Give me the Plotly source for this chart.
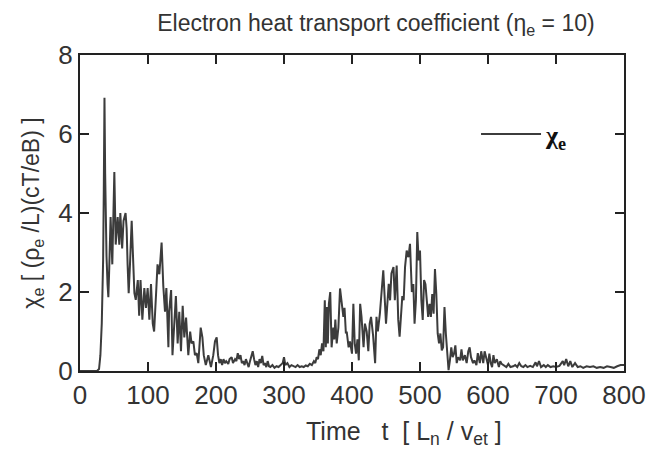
import plotly.graph_objects as go

# Time t [L_n / v_et]
T = [0, 25, 28, 30, 32, 34, 35, 36, 37, 38, 39, 40.5, 41.7, 43, 45, 47.5, 49, 50.5, 52.5, 54,
     55.4, 57.8, 59.3, 62, 64, 67, 68.6, 70, 71.6, 73.5, 76, 78.4, 80, 82, 85, 87, 89, 91.7,
     94.6, 97, 99.5, 102, 104.4, 107, 109, 112, 114, 116.7, 120, 122.5, 125, 127, 130, 131,
     134, 136, 138.7, 141, 143.6, 146, 148.5, 151, 153.4, 156, 159.3, 162, 164, 166.7, 169,
     171.6, 174, 177.5, 180, 182, 185, 188.7, 192.6, 196, 198.5,
     201, 203, 205, 207, 209, 211, 213, 215, 218, 220, 223, 225, 228, 230, 232, 234, 236, 238,
     240, 242, 244, 246, 248, 250, 252, 254, 256, 258, 260, 262, 264, 266, 268, 270, 272, 274,
     276, 278, 280, 283, 286, 289, 292, 295, 298, 300, 302, 305, 308, 311, 314, 317, 320, 323,
     326, 329, 332, 335, 338, 341, 344, 346, 348, 350, 352, 354, 356, 358, 360, 361.5, 363,
     364.5, 366, 368, 370, 372.5, 374, 375.5, 377.5, 380, 382.4, 385, 387.3, 389, 391, 392.2,
     395, 397, 400, 402, 404, 406, 408, 410, 412, 414, 417, 419, 421.6, 424, 426, 428, 431, 434,
     436, 438, 441, 446, 448, 450, 452, 454, 456, 458, 461, 463, 465.7, 468, 470, 472, 474, 476,
     478, 480.4, 483, 485.3, 488, 490.2, 492, 494, 496, 498, 500, 502, 504, 506, 508, 510, 512,
     514, 516, 518, 520, 522, 524, 526, 528, 530, 532, 534, 536, 538, 540, 542, 544, 546, 548,
     550, 552, 554, 556, 559, 561, 563, 566, 568.6, 571, 573, 575, 578, 580, 583, 585, 588, 590,
     593, 595, 598, 600, 602, 604, 606, 608, 610, 613, 616, 618, 620, 623, 627, 630, 633, 637,
     640, 643, 646, 649, 652, 655, 658, 662, 666, 670, 672, 675, 678, 682, 685, 688, 692, 696,
     700, 705, 710, 712, 715, 718, 721, 724, 728, 732, 736, 740, 745, 750, 755, 760, 765, 770,
     775, 780, 785, 790, 795, 800]

# chi_e [ (rho_e/L)(cT/eB) ]
CHI = [0, 0, 0.05, 0.4, 1.2, 2.8, 4.6, 6.92, 5.0, 3.5, 2.9, 2.2, 1.87, 2.6, 3.9, 2.7, 3.6, 5.04, 3.2, 3.5,
       3.9, 3.2, 4.0, 3.1, 3.8, 4.0, 3.6, 2.7, 1.97, 2.7, 3.8, 2.7, 1.97, 1.8, 2.3, 1.4, 2.3, 1.3,
       2.1, 1.6, 2.1, 1.3, 2.2, 1.2, 1.0, 2.0, 2.7, 2.45, 3.25, 2.15, 1.5, 2.1, 0.6, 1.5,
       2.05, 0.4, 1.35, 1.9, 0.7, 1.5, 0.5, 1.65, 0.85, 1.35, 0.4, 1.0, 0.7, 0.75, 0.4,
       0.45, 0.2, 1.1, 0.85, 0.4, 0.15, 0.4, 0.1, 0.4, 0.75,
       0.85, 0.4, 0.2, 0.3, 0.15, 0.3, 0.2, 0.25, 0.18, 0.3, 0.35, 0.2, 0.3, 0.25, 0.45, 0.3, 0.4, 0.2,
       0.25, 0.15, 0.3, 0.2, 0.1, 0.25, 0.35, 0.5, 0.3, 0.15, 0.25, 0.1, 0.3, 0.2, 0.38, 0.15, 0.2, 0.1,
       0.25, 0.12, 0.1, 0.15, 0.08, 0.12, 0.1, 0.15, 0.2, 0.35, 0.15, 0.2, 0.1, 0.15, 0.12, 0.1, 0.15, 0.1,
       0.12, 0.1, 0.14, 0.12, 0.18, 0.15, 0.25, 0.2, 0.35, 0.3, 0.55, 0.4, 0.7, 0.5, 1.79, 0.6, 1.62,
       0.7, 1.7, 2.0, 0.6, 1.1, 0.8, 1.3, 0.7, 1.1, 2.09, 1.7, 1.37, 1.6, 0.95, 1.0,
       0.6, 0.75, 0.44, 1.7, 0.7, 0.44, 0.8, 0.27, 1.7, 1.37, 0.6, 1.2, 1.0, 0.5, 1.2, 1.37, 0.9, 0.2,
       1.37, 1.0, 1.45, 2.55, 1.62, 1.2, 1.7, 2.21, 1.79, 2.47, 2.63, 1.79, 2.67, 1.3, 0.87, 1.37, 1.9, 1.79,
       2.63, 3.05, 2.88, 3.22, 2.0, 2.2, 1.2, 1.79, 3.52, 2.8, 3.05, 1.79, 1.29, 2.3, 2.2, 1.79, 1.37,
       1.7, 1.37, 1.95, 1.45, 2.58, 1.95, 0.95, 0.7, 0.95, 0.52, 0.6, 1.62, 0.95, 0.44, 0.02, 0.27, 0.6, 0.35,
       0.44, 0.65, 0.2, 0.35, 0.27, 0.55, 0.27, 0.4, 0.2, 0.5, 0.6, 0.35, 0.2, 0.27, 0.15, 0.45, 0.2, 0.5,
       0.2, 0.5, 0.3, 0.15, 0.44, 0.2, 0.1, 0.4, 0.2, 0.3, 0.1, 0.25, 0.18, 0.15, 0.1, 0.18, 0.1, 0.12,
       0.15, 0.1, 0.2, 0.12, 0.1, 0.15, 0.1, 0.13, 0.1, 0.22, 0.12, 0.25, 0.1, 0.15, 0.1, 0.15, 0.1, 0.12,
       0.1, 0.13, 0.25, 0.15, 0.3, 0.12, 0.25, 0.1, 0.2, 0.1, 0.12, 0.08, 0.12, 0.1, 0.12, 0.08, 0.1, 0.08,
       0.12, 0.1, 0.08, 0.12, 0.15, 0.15]

X_TICKS = [0, 100, 200, 300, 400, 500, 600, 700, 800]
Y_TICKS = [0, 2, 4, 6, 8]

TITLE = "Electron heat transport coefficient (η<sub>e</sub> = 10)"
X_TITLE = "Time\u00a0\u00a0\u00a0t\u00a0\u00a0[\u00a0L<sub>n</sub>\u00a0/\u00a0v<sub>et</sub>\u00a0]"
Y_TITLE = "χ<sub>e</sub>\u00a0[\u00a0(ρ<sub>e</sub>\u00a0/L)(cT/eB)\u00a0]"

TEXT = "#333333"
FONT = "Liberation Sans, Arial, sans-serif"

fig = go.Figure()
fig.add_trace(go.Scatter(
    x=T, y=CHI, mode="lines",
    line=dict(color="#3c3c3c", width=2),
    name="<b>χ<sub>e</sub></b>",
))

axis_common = dict(
    showline=True, linecolor="#222222", linewidth=2, mirror="ticks",
    ticks="inside", ticklen=9, tickwidth=1.5, tickcolor="#222222",
    showgrid=False, zeroline=False, automargin=False,
    tickfont=dict(family=FONT, size=26, color=TEXT),
)

# the page body adds an 8 px offset, so the figure is 8 px smaller in each direction
fig.update_layout(
    width=663, height=447,
    margin=dict(l=72, r=47, t=47, b=84),
    paper_bgcolor="white", plot_bgcolor="white",
    title=dict(
        text=TITLE,
        font=dict(family=FONT, size=23, color=TEXT),
        x=0.555, xanchor="center", y=0.985, yanchor="top",
    ),
    xaxis=dict(range=[0, 800], tickvals=X_TICKS, **axis_common),
    yaxis=dict(
        range=[0, 8], tickvals=Y_TICKS,
        title=dict(text=Y_TITLE, font=dict(family=FONT, size=23, color=TEXT), standoff=12),
        **axis_common,
    ),
    annotations=[dict(
        text=X_TITLE, xref="paper", yref="paper", x=0.596, y=-0.14,
        xanchor="center", yanchor="top", showarrow=False,
        font=dict(family=FONT, size=25, color=TEXT),
    )],
    showlegend=True,
    legend=dict(
        x=0.728, y=0.75, xanchor="left", yanchor="middle",
        bgcolor="rgba(0,0,0,0)",
        font=dict(family="Liberation Serif, Times New Roman, serif", size=26, color="#111111"),
        itemwidth=60,
    ),
)

fig.write_html("out.html")
